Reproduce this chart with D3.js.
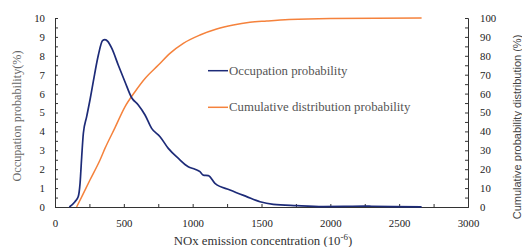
<!DOCTYPE html>
<meta charset="utf-8">
<style>
  body { margin: 0; background: #fff; }
</style>
<body>
<script src="https://d3js.org/d3.v7.min.js"></script>
<script>

// occupation probability (left axis, %)
var occX = [104, 145, 169, 182, 194, 206, 230, 254, 278, 315, 345, 363, 385, 412, 460, 508, 557, 605, 654, 702, 763, 823, 896, 968, 1017, 1053, 1077, 1114, 1162, 1271, 1392, 1489, 1586, 1755, 1947, 2100, 2250, 2300, 2450, 2663];
var occY = [0, 0.28, 0.55, 1.25, 2.66, 3.9, 4.78, 5.66, 6.63, 8.04, 8.8, 8.86, 8.75, 8.4, 7.5, 6.63, 5.78, 5.4, 4.87, 4.16, 3.72, 3.1, 2.57, 2.13, 2.0, 1.87, 1.69, 1.66, 1.25, 0.9, 0.55, 0.28, 0.14, 0.07, 0.02, 0.03, 0.05, 0.04, 0.02, 0.01];

// cumulative distribution probability (right axis, %)
var cumX = [157, 194, 254, 327, 363, 436, 508, 581, 654, 751, 835, 932, 1053, 1174, 1295, 1416, 1538, 1700, 2000, 2663];
var cumY = [0, 5.4, 14.3, 24.9, 31, 42, 53, 61, 68, 75.1, 81.3, 86.6, 91, 94.2, 96.3, 97.7, 98.4, 99.2, 99.8, 100];

var xTicks = [0, 500, 1000, 1500, 2000, 2500, 3000];
var leftTicks = [0, 1, 2, 3, 4, 5, 6, 7, 8, 9, 10];
var rightTicks = [0, 10, 20, 30, 40, 50, 60, 70, 80, 90, 100];

var seriesNames = ["Occupation probability", "Cumulative distribution probability"];
var colors = ["#1d2b78", "#f5823c"];

var width = 522, height = 247;
var plotLeft = 55, plotRight = 468, plotTop = 18, plotBottom = 207;
var serif = "'Liberation Serif', 'Times New Roman', serif";

var svg = d3.select("body").append("svg")
    .attr("width", width)
    .attr("height", height);

var x = d3.scaleLinear().domain([0, 3000]).range([plotLeft, plotRight]);
var yL = d3.scaleLinear().domain([0, 10]).range([plotBottom, plotTop]);
var yR = d3.scaleLinear().domain([0, 100]).range([plotBottom, plotTop]);

var axisColor = "#333";

// bottom axis: inward ticks every 250
svg.append("g").attr("transform", "translate(0," + plotBottom + ")")
    .call(d3.axisBottom(x).tickValues(d3.range(0, 3001, 250)).tickSize(-3).tickFormat(""));
var gxl = svg.append("g").attr("transform", "translate(0," + plotBottom + ")")
    .call(d3.axisBottom(x).tickValues(xTicks).tickSize(0).tickPadding(12).tickFormat(d3.format("d")));

// left axis
svg.append("g").attr("transform", "translate(" + plotLeft + ",0)")
    .call(d3.axisLeft(yL).tickValues(d3.range(0, 10.01, 0.5)).tickSize(-3).tickFormat(""));
var gll = svg.append("g").attr("transform", "translate(" + plotLeft + ",0)")
    .call(d3.axisLeft(yL).tickValues(leftTicks).tickSize(0).tickPadding(10));

// right axis
svg.append("g").attr("transform", "translate(" + plotRight + ",0)")
    .call(d3.axisRight(yR).tickValues(d3.range(0, 101, 5)).tickSize(-3).tickFormat(""));
var grl = svg.append("g").attr("transform", "translate(" + plotRight + ",0)")
    .call(d3.axisRight(yR).tickValues(rightTicks).tickSize(0).tickPadding(12));

svg.selectAll(".domain").attr("stroke", axisColor);
svg.selectAll(".tick line").attr("stroke", axisColor);
svg.selectAll(".tick text")
    .style("font-family", serif)
    .style("font-size", "10.8px")
    .attr("fill", "#222");
gxl.select(".domain").remove();
gll.select(".domain").remove();
grl.select(".domain").remove();

var lineOcc = d3.line()
    .x(function(d, i) { return x(occX[i]); })
    .y(function(d) { return yL(d); })
    .curve(d3.curveMonotoneX);

var lineCum = d3.line()
    .x(function(d, i) { return x(cumX[i]); })
    .y(function(d) { return yR(d); })
    .curve(d3.curveMonotoneX);

svg.append("path")
    .attr("d", lineCum(cumY))
    .attr("fill", "none")
    .attr("stroke", colors[1])
    .attr("stroke-width", 1.5);

svg.append("path")
    .attr("d", lineOcc(occY))
    .attr("fill", "none")
    .attr("stroke", colors[0])
    .attr("stroke-width", 1.7);

// legend
var legend = svg.append("g");
[70.7, 107.3].forEach(function(ly, i) {
  legend.append("line")
      .attr("x1", 208).attr("x2", 228)
      .attr("y1", ly).attr("y2", ly)
      .attr("stroke", colors[i])
      .attr("stroke-width", 1.5);
  legend.append("text")
      .attr("x", 229).attr("y", ly + 4)
      .style("font-family", serif)
      .style("font-size", "12.8px")
      .attr("fill", "#555")
      .text(seriesNames[i]);
});

// axis titles
var xt = svg.append("text")
    .attr("x", 263).attr("y", 245)
    .attr("text-anchor", "middle")
    .style("font-family", serif)
    .style("font-size", "12.8px")
    .attr("fill", "#333");
xt.append("tspan").text("NOx emission concentration (10");
xt.append("tspan").style("font-size", "9px").attr("dy", -5).text("-6");
xt.append("tspan").attr("dy", 5).text(")");

svg.append("text")
    .attr("transform", "translate(21,116) rotate(-90)")
    .attr("text-anchor", "middle")
    .style("font-family", serif)
    .style("font-size", "12.2px")
    .attr("fill", "#666")
    .text("Occupation probability(%)");

svg.append("text")
    .attr("transform", "translate(521,127) rotate(-90)")
    .attr("text-anchor", "middle")
    .style("font-family", "'Liberation Sans', Arial, sans-serif")
    .style("font-size", "11px")
    .attr("fill", "#444")
    .text("Cumulative probability distribution (%)");

</script>
</body>
